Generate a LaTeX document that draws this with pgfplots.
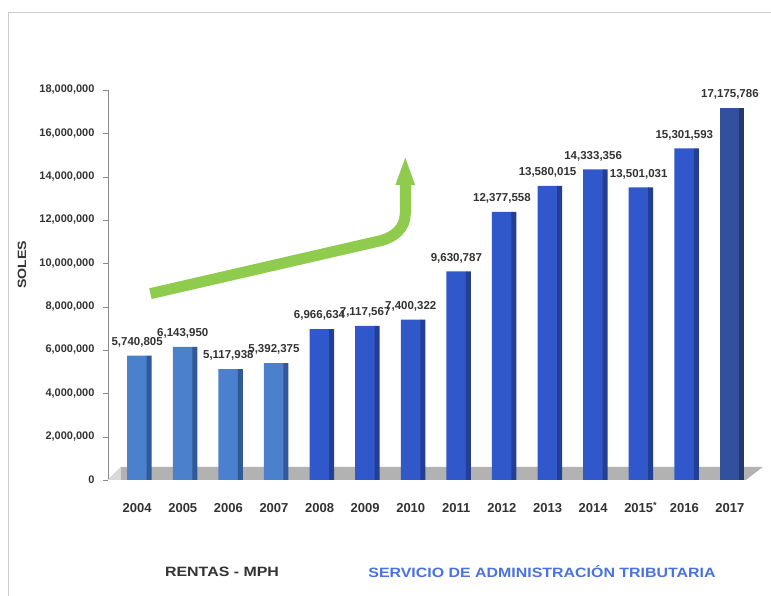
\documentclass[border=0pt]{standalone}
\usepackage{fontspec}
\setmainfont{Liberation Sans}
\newfontfamily\widefont[FakeStretch=1.18]{Liberation Sans}
\usepackage{pgfplots}
\pgfplotsset{compat=1.18}
\usetikzlibrary{arrows.meta}
\definecolor{lblue}{HTML}{4A80CC}
\definecolor{lblueD}{HTML}{30599A}
\definecolor{mblue}{HTML}{3058CA}
\definecolor{mblueD}{HTML}{223F94}
\definecolor{dblue}{HTML}{33509E}
\definecolor{dblueD}{HTML}{22386E}
\definecolor{txt}{HTML}{333333}
\definecolor{arrowgreen}{HTML}{8FCB4C}
\definecolor{satblue}{HTML}{4A72E0}
\begin{document}
\begin{tikzpicture}
\useasboundingbox (0pt,0pt) rectangle (771pt,596pt);
\fill[white] (0pt,0pt) rectangle (771pt,596pt);
\draw[black!20, line width=1pt] (8pt,0pt) -- (8pt,583pt) -- (771pt,583pt);
\begin{axis}[
  at={(108pt,116pt)}, anchor=south west,
  scale only axis, width=652pt, height=390pt,
  xmin=-0.64, xmax=13.66, ymin=0, ymax=18000000,
  ybar, bar width=20pt, bar shift=0pt,
  axis lines*=left,
  x axis line style={draw=none},
  y axis line style={black!45, line width=0.6pt},
  ytick={0,2000000,...,18000000},
  scaled y ticks=false,
  yticklabel style={/pgf/number format/fixed, /pgf/number format/1000 sep={,}, /pgf/number format/assume math mode=true,
     font=\bfseries\fontsize{11}{13}\selectfont, text=txt, xshift=-5pt},
  ytick style={black!45},
  tick align=outside, major tick length=5pt,
  xtick={0,...,13},
  xticklabels={2004,2005,2006,2007,2008,2009,2010,2011,2012,2013,2014,2015\rlap{\textsuperscript{*}},2016,2017},
  xtick style={draw=none},
  xticklabel style={font=\bfseries\fontsize{13}{15}\selectfont, text=txt, yshift=-16pt, text height=1.6ex, text depth=0.2ex},
  clip=false,
  every node near coord/.append style={font=\bfseries\fontsize{11.5}{13}\selectfont, text=txt,
     /pgf/number format/fixed, /pgf/number format/1000 sep={,}, /pgf/number format/assume math mode=true, yshift=5pt},
]
% floor
\fill[black!30] (axis cs:-0.64,0) -- (axis cs:13.35,0) -- (axis cs:13.72,600000) -- (axis cs:-0.36,600000) -- cycle;
\fill[black!15] (axis cs:-0.64,0) -- (axis cs:-0.36,600000) -- (axis cs:-0.36,0) -- cycle;
% arrow
\draw[arrowgreen, line width=11pt, line cap=butt, -{Triangle[length=30pt,width=17pt]}]
  (axis cs:0.29,8600000) -- (axis cs:5.35,11050000)
  to[out=15,in=-90] (axis cs:5.88,12300000) -- (axis cs:5.88,15000000);
% bar faces
\addplot[draw=none, fill=lblue, nodes near coords] coordinates {
  (0,5740805) (1,6143950) (2,5117938) (3,5392375)};
\addplot[draw=none, fill=mblue, nodes near coords] coordinates {
  (4,6966634) (5,7117567) (6,7400322) (7,9630787) (8,12377558)
  (9,13580015) (10,14333356) (11,13501031) (12,15301593)};
\addplot[draw=none, fill=dblue, nodes near coords] coordinates {
  (13,17175786)};
% bar sides (3D effect)
\addplot[draw=none, fill=lblueD, bar width=5pt, bar shift=12pt] coordinates {
  (0,5740805) (1,6143950) (2,5117938) (3,5392375)};
\addplot[draw=none, fill=mblueD, bar width=5pt, bar shift=12pt] coordinates {
  (4,6966634) (5,7117567) (6,7400322) (7,9630787) (8,12377558)
  (9,13580015) (10,14333356) (11,13501031) (12,15301593)};
\addplot[draw=none, fill=dblueD, bar width=5pt, bar shift=12pt] coordinates {
  (13,17175786)};
\end{axis}
\node[rotate=90, font=\bfseries\widefont\bfseries\fontsize{12}{14}\selectfont, text=txt] at (22pt,331pt) {SOLES};
\node[font=\widefont\bfseries\fontsize{13.5}{15}\selectfont, text=txt] at (222pt,24pt) {RENTAS - MPH};
\node[font=\widefont\bfseries\fontsize{13.5}{15}\selectfont, text=satblue] at (542pt,24pt) {SERVICIO DE ADMINISTRACIÓN TRIBUTARIA};
\end{tikzpicture}
\end{document}
